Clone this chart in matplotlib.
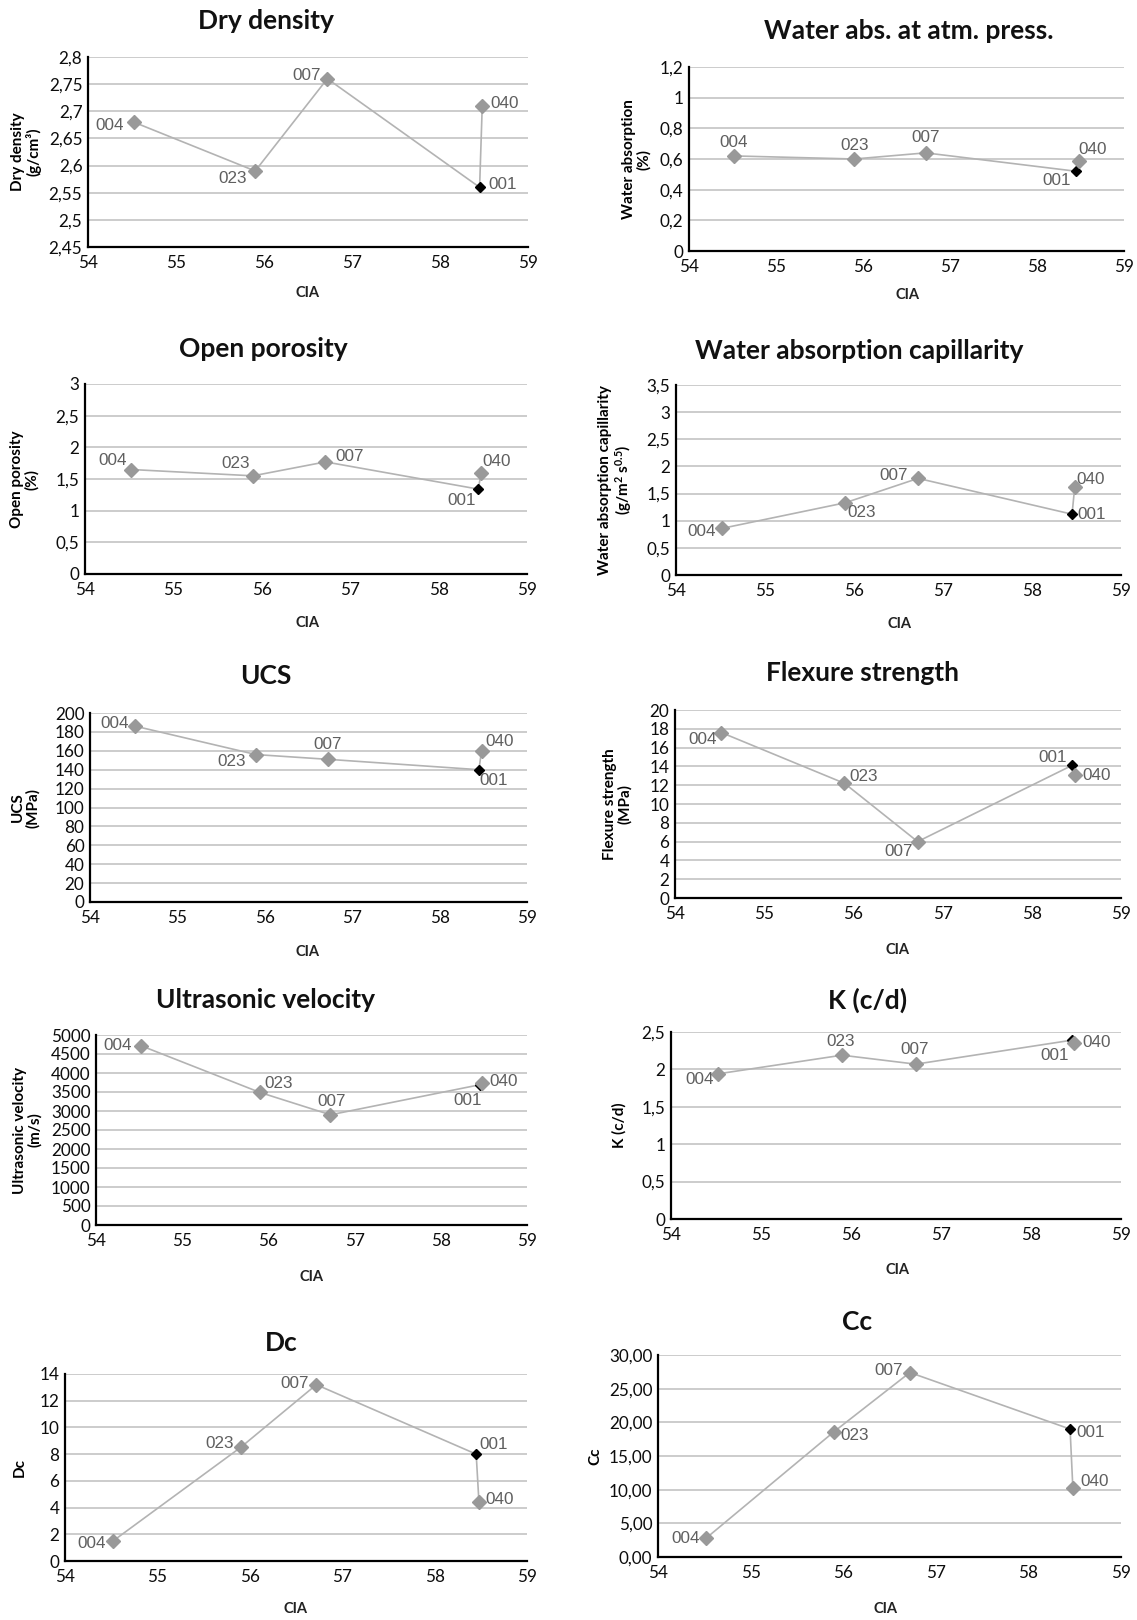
import matplotlib
matplotlib.use("Agg")
import matplotlib.pyplot as plt
from matplotlib.ticker import FixedLocator, FuncFormatter

plt.rcParams['font.family'] = ['Lato', 'DejaVu Sans']
plt.rcParams['mathtext.fontset'] = 'custom'
plt.rcParams['mathtext.rm'] = 'Lato:bold'
plt.rcParams['mathtext.bf'] = 'Lato:bold'
plt.rcParams['mathtext.it'] = 'Lato:bold'

# ---------------- data ----------------
samples = ['004', '023', '007', '001', '040']
cia = [54.52, 55.90, 56.72, 58.45, 58.48]

dry_density = [2.68, 2.59, 2.76, 2.56, 2.71]
water_abs = [0.62, 0.60, 0.64, 0.52, 0.59]
open_porosity = [1.65, 1.55, 1.77, 1.34, 1.60]
water_cap = [0.86, 1.33, 1.78, 1.12, 1.62]
ucs = [186, 156, 151, 140, 160]
flexure = [17.6, 12.2, 6.0, 14.1, 13.1]
ultrasonic = [4720, 3490, 2900, 3690, 3740]
k_cd = [1.94, 2.19, 2.07, 2.39, 2.35]
dc = [1.5, 8.5, 13.2, 8.0, 4.4]
cc = [2.8, 18.6, 27.4, 19.0, 10.3]

titles = ['Dry density', 'Water abs. at atm. press.', 'Open porosity',
          'Water absorption capillarity', 'UCS', 'Flexure strength',
          'Ultrasonic velocity', 'K (c/d)', 'Dc', 'Cc']
ylabels = ['Dry density\n(g/cm³)', 'Water absorption\n(%)', 'Open porosity\n(%)',
           'Water absorption capillarity\n(g/m$^{2}$ s$^{0.5}$)', 'UCS\n(MPa)',
           'Flexure strength\n(MPa)', 'Ultrasonic velocity\n(m/s)', 'K (c/d)', 'Dc', 'Cc']
series = [dry_density, water_abs, open_porosity, water_cap, ucs, flexure,
          ultrasonic, k_cd, dc, cc]
yticks = [
    [2.45, 2.5, 2.55, 2.6, 2.65, 2.7, 2.75, 2.8],
    [0, 0.2, 0.4, 0.6, 0.8, 1.0, 1.2],
    [0, 0.5, 1, 1.5, 2, 2.5, 3],
    [0, 0.5, 1, 1.5, 2, 2.5, 3, 3.5],
    list(range(0, 201, 20)),
    list(range(0, 21, 2)),
    list(range(0, 5001, 500)),
    [0, 0.5, 1, 1.5, 2, 2.5],
    list(range(0, 15, 2)),
    list(range(0, 31, 5)),
]
xticks = [54, 55, 56, 57, 58, 59]
two_decimals = [False] * 9 + [True]

# ---------------- layout (pixels in 1137x1620 figure) ----------------
W, H = 1137, 1620
axes_px = [  # left, right, top, bottom
    (88, 528, 57, 247), (689, 1124, 67, 251),
    (85, 527, 384, 574), (676, 1121, 385, 575),
    (90, 527, 713, 902), (675, 1121, 710, 898),
    (96, 527, 1035, 1225), (671, 1121, 1032, 1219),
    (65, 527, 1374, 1561), (658, 1121, 1355, 1557),
]
title_px = [(266, 21), (909, 31), (263, 349), (859, 351), (266, 676),
            (862, 673), (266, 1000), (868, 1000), (281, 1343), (857, 1322)]
cia_px = [(308, 293), (907, 295), (307, 623), (900, 624), (307, 952),
          (898, 950), (312, 1277), (897, 1270), (296, 1609), (886, 1609)]
# right edge (baseline side) of the rotated y label
ylab_px = [42, 651, 39, 634, 40, 632, 42, 627, 27, 602]

# label offsets (pixels) for each sample in each panel
offsets = [
    [(-24, -3), (-23, -7), (-21, 3), (23, 3), (22, 2)],
    [(-1, 13), (0, 14), (0, 15), (-20, -9), (14, 11)],
    [(-18, 9), (-17, 12), (24, 5), (-17, -11), (16, 11)],
    [(-21, -3), (17, -10), (-24, 3), (20, 0), (16, 8)],
    [(-21, 3), (-24, -7), (0, 15), (15, -11), (18, 9)],
    [(-19, -7), (19, 7), (-19, -10), (-19, 8), (22, -1)],
    [(-23, 0), (19, 9), (1, 13), (-12, -16), (21, 1)],
    [(-18, -6), (-1, 14), (-1, 15), (-17, -15), (22, 1)],
    [(-21, -3), (-21, 4), (-22, 1), (17, 10), (21, 3)],
    [(-21, 0), (21, -4), (-21, 2), (21, -3), (22, 6)],
]

line_col = '#b3b3b3'
marker_col = '#999999'
grid_col = '#c4c4c4'
label_col = '#5f5f5f'


def make_fmt(two_dec):
    def f(v, pos):
        if two_dec:
            s = '%.2f' % v
        else:
            s = '%g' % v
        return s.replace('.', ',')
    return f


fig = plt.figure(figsize=(W / 100, H / 100), dpi=100)

for i in range(10):
    l, r, t, b = axes_px[i]
    ax = fig.add_axes([l / W, 1 - b / H, (r - l) / W, (b - t) / H])
    yv = series[i]
    ax.plot(cia, yv, color=line_col, lw=1.2, zorder=2)
    for j, s in enumerate(samples):
        if s == '001':
            ax.plot(cia[j], yv[j], marker='D', ms=5.5, color='black', zorder=3,
                    clip_on=False, ls='none')
        else:
            ax.plot(cia[j], yv[j], marker='D', ms=7.5, color=marker_col, zorder=4,
                    clip_on=False, ls='none')
        dx, dy = offsets[i][j]
        ax.annotate(s, (cia[j], yv[j]), xytext=(dx, dy), textcoords='offset pixels',
                    ha='center', va='center', fontsize=12.3, color=label_col,
                    family=['Liberation Sans', 'DejaVu Sans'], zorder=5)
    yt = yticks[i]
    ax.set_ylim(yt[0], yt[-1])
    ax.set_xlim(54, 59)
    ax.yaxis.set_major_locator(FixedLocator(yt))
    ax.yaxis.set_major_formatter(FuncFormatter(make_fmt(two_decimals[i])))
    ax.xaxis.set_major_locator(FixedLocator(xticks))
    ax.xaxis.set_major_formatter(FuncFormatter(lambda v, p: '%d' % v))
    ax.grid(axis='y', color=grid_col, lw=1.2, zorder=0)
    ax.set_axisbelow(True)
    for sp in ['top', 'right']:
        ax.spines[sp].set_visible(False)
    for sp in ['left', 'bottom']:
        ax.spines[sp].set_linewidth(1.6)
        ax.spines[sp].set_color('black')
    ax.tick_params(axis='both', length=0, labelsize=12.3, colors='#0d0d0d')
    ax.tick_params(axis='y', pad=4)
    ax.tick_params(axis='x', pad=6)
    ax.set_ylabel(ylabels[i], fontsize=11, fontweight='bold', linespacing=1.05)
    ax.yaxis.set_label_coords((ylab_px[i] - l) / (r - l), 0.5)

    tx, ty = title_px[i]
    fig.text(tx / W, 1 - ty / H, titles[i], ha='center', va='center',
             fontsize=19, fontweight='bold', color='#111111')
    cx, cy = cia_px[i]
    fig.text(cx / W, 1 - cy / H, 'CIA', ha='center', va='center',
             fontsize=10.5, fontweight='bold', color='#222222')

fig.savefig('out.png', dpi=100, facecolor='white')
